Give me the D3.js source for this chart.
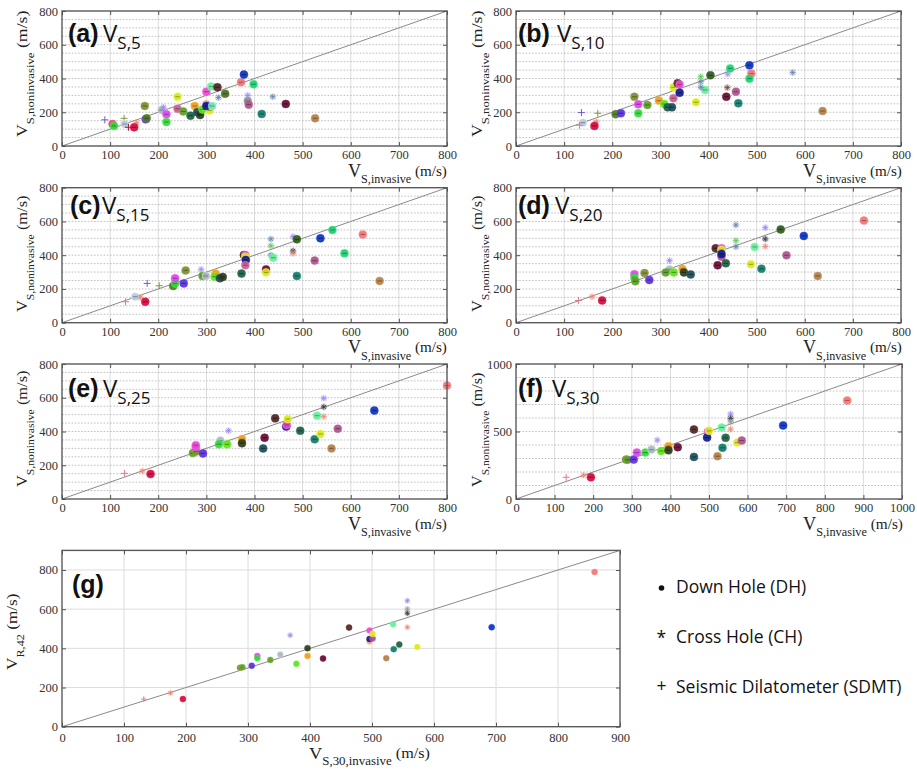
<!DOCTYPE html>
<html><head><meta charset="utf-8">
<script src="https://cdn.jsdelivr.net/npm/d3@7"></script>
<style>body{margin:0;background:#fff} svg{display:block}</style>
</head><body>
<svg id="chart" width="917" height="769"></svg>
<script>
// ---------------- DATA ----------------
// each row: [V invasive, V noninvasive, site key]
const panelA = [
 [89,155,'purpleP'],[105,130,'rose'],[108,119,'green'],[129,164,'oliveP'],[130,130,'lightblue'],
 [138,111,'darkredP'],[155,138,'salmonA'],[150,111,'crimson'],[174,158,'violet'],[176,164,'darkolive'],
 [172,237,'olive'],[207,213,'lightgray'],[211,229,'lavenderA'],[217,188,'magenta'],[217,142,'green'],
 [240,221,'mauve'],[240,292,'yellow'],[252,205,'olivegreen'],[267,180,'darkgreen'],[276,237,'orange'],
 [281,200,'darkteal'],[287,184,'blackgreen'],[292,217,'lime'],[307,211,'yellow'],[300,249,'peach'],
 [300,237,'navy'],[300,322,'pink'],[310,352,'lightgreen'],[312,237,'mint'],[323,348,'darkbrown'],
 [325,287,'steelA'],[339,310,'darkolive2'],[372,378,'salmon'],[378,423,'blue'],[398,366,'emerald'],
 [386,300,'lavenderA'],[386,267,'gray'],[388,245,'plum'],[438,292,'steelA'],[465,249,'maroon'],
 [415,190,'teal'],[526,164,'brown']
];
const panelB = [
 [136,198,'purpleP'],[139,138,'lightblue'],[132,123,'pinkP'],[170,194,'oliveP'],[167,144,'salmonA'],
 [163,119,'crimson'],[207,188,'darkolive'],[218,194,'violet'],[246,292,'olive'],[254,247,'magenta'],
 [254,194,'green'],[273,243,'olivegreen'],[297,269,'orange'],[308,249,'lime'],[315,229,'darkgreen'],
 [324,229,'darkteal'],[327,283,'mauve'],[327,348,'yellow'],[336,372,'darkbrown'],[340,364,'pink'],
 [340,316,'navy'],[374,259,'yellow'],[393,332,'lightgreen'],[384,381,'steelA'],[384,348,'steelA'],
 [384,411,'greenA'],[404,419,'forest'],[440,427,'lavenderA'],[445,460,'emerald'],[437,292,'maroon'],
 [439,346,'brownA'],[457,322,'plum'],[462,253,'teal'],[485,478,'blue'],[489,429,'salmon'],
 [485,399,'emerald'],[575,435,'steelA'],[637,207,'brown']
];
const panelC = [
 [132,124,'pinkP'],[152,154,'lightblue'],[163,150,'salmonA'],[173,124,'crimson'],[177,233,'purpleP'],
 [202,219,'oliveP'],[231,217,'darkolive'],[235,233,'green'],[235,263,'magenta'],[253,233,'violet'],
 [257,310,'olive'],[289,316,'lavenderA'],[292,277,'olivegreen'],[299,277,'lightgray'],[319,291,'orange'],
 [317,273,'lime'],[328,263,'darkteal'],[334,271,'blackgreen'],[373,291,'darkgreen'],[378,401,'darkbrown'],
 [381,401,'pink'],[381,391,'yellow'],[382,371,'navy'],[381,340,'mauve'],[424,316,'maroon'],
 [424,298,'yellow'],[434,496,'steelA'],[434,456,'greenA'],[434,401,'steelA'],[439,385,'lightgreen'],
 [480,510,'lavenderA'],[480,425,'darkA'],[480,411,'salmonA'],[488,494,'forest'],[488,277,'teal'],
 [525,368,'plum'],[537,500,'blue'],[562,549,'emerald'],[587,411,'emerald'],[625,523,'salmon'],
 [660,247,'brown']
];
const panelD = [
 [130,132,'pinkP'],[158,154,'salmonA'],[179,132,'crimson'],[246,287,'magenta'],[246,267,'green'],
 [248,245,'olivegreen'],[267,294,'olive'],[277,253,'violet'],[319,368,'lavenderA'],[319,316,'lightgray'],
 [311,298,'olivegreen'],[328,298,'lime'],[346,318,'orange'],[349,298,'blackgreen'],[363,286,'darkteal'],
 [415,441,'darkbrown'],[427,441,'pink'],[427,431,'yellow'],[427,391,'plum'],[427,407,'navy'],
 [419,340,'maroon'],[436,352,'darkgreen'],[457,579,'steelA'],[457,486,'greenA'],[457,450,'steelA'],
 [496,449,'lightgreen'],[488,346,'yellow'],[518,563,'lavenderA'],[518,496,'darkA'],[518,452,'salmonA'],
 [510,320,'teal'],[550,553,'forest'],[598,514,'blue'],[562,399,'plum'],[627,277,'brown'],
 [723,605,'salmon']
];
const panelE = [
 [130,152,'pinkP'],[167,166,'salmonA'],[184,148,'crimson'],[272,272,'olivegreen'],[279,282,'olive'],
 [278,308,'magenta'],[278,318,'pink'],[293,270,'violet'],[329,346,'lightgray'],[326,324,'green'],
 [343,324,'lime'],[346,405,'lavenderA'],[374,354,'orange'],[374,330,'blackgreen'],[418,300,'darkteal'],
 [421,363,'maroon'],[443,478,'darkbrown'],[466,429,'navy'],[467,439,'pink'],[469,474,'yellow'],
 [495,405,'darkgreen'],[525,354,'teal'],[530,494,'lightgreen'],[537,385,'yellow'],[544,597,'lavenderA'],
 [544,546,'darkA'],[544,488,'salmonA'],[560,300,'brown'],[573,417,'plum'],[649,524,'blue'],
 [800,672,'salmon']
];
const panelF = [
 [130,161,'pinkP'],[175,176,'salmonA'],[194,161,'crimson'],[285,292,'olive'],[289,290,'olivegreen'],
 [305,292,'violet'],[313,344,'magenta'],[335,344,'green'],[351,366,'lightgray'],[366,436,'lavenderA'],
 [376,356,'lime'],[395,391,'orange'],[395,361,'blackgreen'],[419,384,'maroon'],[461,312,'darkteal'],
 [461,515,'darkbrown'],[497,498,'pink'],[495,455,'navy'],[500,505,'yellow'],[533,530,'lightgreen'],
 [522,317,'brown'],[535,379,'teal'],[543,453,'darkgreen'],[556,629,'lavenderA'],[556,597,'darkA'],
 [556,572,'grayA'],[556,517,'salmonA'],[573,418,'yellow'],[585,433,'plum'],[692,545,'blue'],
 [858,730,'salmon']
];
const panelG = [
 [132,141,'pinkP'],[175,172,'salmonA'],[195,141,'crimson'],[287,301,'olive'],[291,304,'olivegreen'],
 [306,311,'violet'],[315,361,'magenta'],[315,350,'green'],[336,341,'olivegreen'],[352,368,'lightgray'],
 [368,467,'lavenderA'],[378,321,'lime'],[396,361,'orange'],[396,401,'blackgreen'],[421,348,'maroon'],
 [463,506,'darkbrown'],[496,491,'pink'],[496,435,'peach'],[496,448,'navy'],[501,450,'plum'],
 [501,474,'yellow'],[534,523,'lightgreen'],[523,350,'brown'],[535,396,'teal'],[544,419,'darkgreen'],
 [557,643,'lavenderA'],[557,601,'grayA'],[557,579,'darkA'],[557,508,'salmonA'],[573,407,'yellow'],
 [693,508,'blue'],[859,790,'salmon']
];
const xTicks800 = [0,100,200,300,400,500,600,700,800];
const yTicks800 = [0,200,400,600,800];
const xTicks1000 = [0,100,200,300,400,500,600,700,800,900,1000];
const yTicks1000 = [0,500,1000];
const xTicks900 = [0,100,200,300,400,500,600,700,800,900];
const yTicksG = [0,200,400,600,800];
const panelLetters = ['(a)','(b)','(c)','(d)','(e)','(f)','(g)'];
const panelSubs = ['S,5','S,10','S,15','S,20','S,25','S,30',null];
const legendSymbols = ['\u2022','*','+'];
const legendLabels = ['Down Hole (DH)','Cross Hole (CH)','Seismic Dilatometer (SDMT)'];

// site -> [colour, method]
const siteStyle = {
 crimson:['#cf0a3c','DH'], rose:['#f23f78','DH'], pinkP:['#e07a8e','SDMT'], darkredP:['#a01838','SDMT'],
 purpleP:['#6f5bd0','SDMT'], oliveP:['#7c9a3c','SDMT'], salmonA:['#ee8a78','CH'], lightblue:['#b8c8dc','DH'],
 darkolive:['#4e7b22','DH'], violet:['#5a30d8','DH'], olive:['#7d8a35','DH'], lightgray:['#a9b8bf','DH'],
 magenta:['#d945ee','DH'], green:['#35d63c','DH'], mauve:['#c2608f','DH'], yellow:['#d7e626','DH'],
 olivegreen:['#5e9a2c','DH'], darkgreen:['#1c5d3f','DH'], orange:['#f09a1c','DH'], darkteal:['#1b4b5a','DH'],
 blackgreen:['#2b3d1d','DH'], lime:['#5ee01c','DH'], navy:['#111a8e','DH'], pink:['#ea4bcc','DH'],
 peach:['#f2a58e','DH'], lightgreen:['#68ec98','DH'], mint:['#74e2b4','DH'], darkbrown:['#4e2424','DH'],
 steelA:['#6a8ab0','CH'], darkolive2:['#4a6a28','DH'], salmon:['#f27373','DH'], blue:['#0b33bd','DH'],
 emerald:['#22cc70','DH'], lavenderA:['#9c8cf0','CH'], gray:['#8e8e8e','DH'], plum:['#a8528a','DH'],
 maroon:['#640a32','DH'], teal:['#147868','DH'], brown:['#ad7e4c','DH'], greenA:['#5cc85c','CH'],
 brownA:['#7a4c3a','CH'], darkA:['#3c3c4a','CH'], grayA:['#9a9a9a','CH'], forest:['#2e5a1c','DH']
};

// ---------------- LAYOUT ----------------
const svg = d3.select('#chart');
const serif = "'Liberation Serif','Times New Roman',serif";
const panels = [
 {data:panelA, x0:62, x1:447, y0:146, y1:11, xmax:800, ymax:800, xt:xTicks800, yt:yTicks800, hstep:50, dotted:true,
  labX:68, vX:103, base:42, yt0:10, yt1:137, ytx:27, xtx0:348, xtx1:447},
 {data:panelB, x0:516, x1:901, y0:146, y1:11, xmax:800, ymax:800, xt:xTicks800, yt:yTicks800, hstep:50, dotted:true,
  labX:518, vX:557, base:42, yt0:10, yt1:137, ytx:482, xtx0:803, xtx1:902},
 {data:panelC, x0:62, x1:447, y0:322.7, y1:187.7, xmax:800, ymax:800, xt:xTicks800, yt:yTicks800, hstep:50, dotted:true,
  labX:70, vX:102, base:214, yt0:195, yt1:312, ytx:27, xtx0:348, xtx1:447},
 {data:panelD, x0:516, x1:901, y0:322.7, y1:187.7, xmax:800, ymax:800, xt:xTicks800, yt:yTicks800, hstep:50, dotted:true,
  labX:518, vX:555, base:214, yt0:195, yt1:312, ytx:482, xtx0:803, xtx1:902},
 {data:panelE, x0:62, x1:447, y0:499, y1:364, xmax:800, ymax:800, xt:xTicks800, yt:yTicks800, hstep:50, dotted:true,
  labX:68, vX:103, base:397, yt0:370, yt1:487, ytx:27, xtx0:348, xtx1:447},
 {data:panelF, x0:516, x1:902, y0:499, y1:364, xmax:1000, ymax:1000, xt:xTicks1000, yt:yTicks1000, hstep:100, dotted:true,
  labX:518, vX:552, base:397, yt0:372, yt1:487, ytx:482, xtx0:803, xtx1:903},
 {data:panelG, x0:62, x1:620, y0:726.7, y1:550.4, xmax:900, ymax:900, xt:xTicks900, yt:yTicksG, hstep:200, dotted:false,
  labX:72, vX:null, base:593, g:true}
];

function styleAxis(sel){
  sel.select('.domain').remove();
  sel.selectAll('.tick line').attr('stroke','#555').attr('stroke-width',1);
  sel.selectAll('.tick text').attr('font-family',serif).attr('font-size',12.5).attr('fill','#333');
}

function fitText(parts, tx, ty, rot, L){
  const t = svg.append('text').attr('font-family',serif).attr('fill','#222');
  parts.forEach(([s,size,dy]) => t.append('tspan').attr('font-size',size).attr('dy',dy).text(s));
  const w = t.node().getBBox().width;
  const s = L / w;
  t.attr('transform',`translate(${tx},${ty}) rotate(${rot}) scale(${s},1)`);
}

function drawPanel(p, i){
  const x = d3.scaleLinear().domain([0,p.xmax]).range([p.x0,p.x1]);
  const y = d3.scaleLinear().domain([0,p.ymax]).range([p.y0,p.y1]);
  const g = svg.append('g');
  g.append('rect').attr('x',p.x0).attr('y',p.y1).attr('width',p.x1-p.x0).attr('height',p.y0-p.y1).attr('fill','#fff');
  // grid
  const vg = p.xt.filter(v => v>0 && v<p.xmax);
  g.selectAll('.vg').data(vg).join('line').attr('x1',d=>x(d)).attr('x2',d=>x(d)).attr('y1',p.y0).attr('y2',p.y1)
    .attr('stroke','#dcdcdc').attr('stroke-width',1);
  const hg = d3.range(p.hstep, p.ymax, p.hstep);
  g.selectAll('.hg').data(hg).join('line').attr('x1',p.x0).attr('x2',p.x1).attr('y1',d=>y(d)).attr('y2',d=>y(d))
    .attr('stroke', p.dotted ? '#b8b8b8' : '#dcdcdc').attr('stroke-width', p.dotted?0.9:1)
    .attr('stroke-dasharray', p.dotted ? '1.6,1.6' : null);
  // 1:1 line
  const dm = Math.min(p.xmax,p.ymax);
  g.append('line').attr('x1',x(0)).attr('y1',y(0)).attr('x2',x(dm)).attr('y2',y(dm)).attr('stroke','#8a8a8a').attr('stroke-width',1);
  // points
  const r = p.g ? 3 : 4;
  p.data.forEach(([xv,yv,key]) => {
    const [col, m] = siteStyle[key];
    const cx = x(xv), cy = y(yv);
    if (m === 'DH') {
      g.append('circle').attr('cx',cx).attr('cy',cy).attr('r',r).attr('fill',col).attr('fill-opacity',0.92)
        .attr('stroke',d3.color(col).brighter(0.6)).attr('stroke-opacity',0.6).attr('stroke-width',0.8);
      if (!p.g) g.append('line').attr('x1',cx-2.3).attr('x2',cx+2.3).attr('y1',cy).attr('y2',cy)
        .attr('stroke',d3.color(col).darker(1.3)).attr('stroke-width',1.1).attr('stroke-opacity',0.8);
    } else if (m === 'CH') {
      const a = p.g ? 2.4 : 2.8;
      g.append('circle').attr('cx',cx).attr('cy',cy).attr('r',a+0.8).attr('fill',col).attr('fill-opacity',0.2);
      const path = d3.path();
      path.moveTo(cx-a,cy); path.lineTo(cx+a,cy);
      path.moveTo(cx,cy-a); path.lineTo(cx,cy+a);
      const b = a*0.72;
      path.moveTo(cx-b,cy-b); path.lineTo(cx+b,cy+b);
      path.moveTo(cx-b,cy+b); path.lineTo(cx+b,cy-b);
      g.append('path').attr('d',path.toString()).attr('stroke',col).attr('stroke-width',0.9).attr('fill','none');
    } else {
      const a = p.g ? 2.8 : 3.5;
      const path = d3.path();
      path.moveTo(cx-a,cy); path.lineTo(cx+a,cy);
      path.moveTo(cx,cy-a); path.lineTo(cx,cy+a);
      g.append('path').attr('d',path.toString()).attr('stroke',col).attr('stroke-width',1).attr('fill','none');
    }
  });
  // frame
  g.append('rect').attr('x',p.x0).attr('y',p.y1).attr('width',p.x1-p.x0).attr('height',p.y0-p.y1)
    .attr('fill','none').attr('stroke','#5a5a5a').attr('stroke-width',1.4);
  // axes (inward ticks)
  const fmt = d3.format('d');
  g.append('g').attr('transform',`translate(0,${p.y0})`)
    .call(d3.axisBottom(x).tickValues(p.xt).tickSize(-4).tickPadding(p.g?6:4.5).tickFormat(fmt)).call(styleAxis);
  g.append('g').attr('transform',`translate(0,${p.y1})`)
    .call(d3.axisTop(x).tickValues(p.xt).tickSize(-4).tickFormat('')).call(styleAxis);
  g.append('g').attr('transform',`translate(${p.x0},0)`)
    .call(d3.axisLeft(y).tickValues(p.yt).tickSize(-4).tickPadding(4).tickFormat(fmt)).call(styleAxis);
  g.append('g').attr('transform',`translate(${p.x1},0)`)
    .call(d3.axisRight(y).tickValues(p.yt).tickSize(-4).tickFormat('')).call(styleAxis);
  // panel label
  g.append('text').attr('x',p.labX).attr('y',p.base).attr('font-family',"'Liberation Sans',Arial,sans-serif")
    .attr('font-weight','bold').attr('font-size',25).attr('fill','#111').text(panelLetters[i]);
  if (panelSubs[i]) {
    const t = g.append('text').attr('x',p.vX).attr('y',p.base).attr('font-family',"'Open Sans',sans-serif").attr('fill','#111');
    t.append('tspan').attr('font-size',24).text('V');
    t.append('tspan').attr('font-size',17).attr('dy',7).text(panelSubs[i]);
  }
  // axis titles
  if (!p.g) {
    fitText([['V',14,0],['S,noninvasive',10,7],[' (m/s)',14,-7]], p.ytx, p.yt1, -90, p.yt1-p.yt0);
    fitText([['V',18,0],['S,invasive',12,6.5],[' (m/s)',15,-7.5]], p.xtx0, p.y0+30.5, 0, p.xtx1-p.xtx0);
  } else {
    fitText([['V',14,0],['R,42',10,7],[' (m/s)',14,-7]], 17, 670, -90, 77);
    fitText([['V',17,0],['S,30,invasive',12,6],[' (m/s)',15,-7]], 309, 759, 0, 121);
  }
}
panels.forEach(drawPanel);

// legend
const legY = [593, 643, 693];
legendLabels.forEach((lab,i) => {
  if (i === 0) {
    svg.append('circle').attr('cx',661.5).attr('cy',588).attr('r',2.8).attr('fill','#111');
  } else {
    svg.append('text').attr('x',656.5).attr('y',legY[i] + (i===1?1:-1)).attr('font-family',"'Open Sans',sans-serif")
      .attr('font-size',17.5).attr('fill','#111').text(legendSymbols[i]);
  }
  svg.append('text').attr('x',676).attr('y',legY[i]).attr('font-family',"'Open Sans',sans-serif")
    .attr('font-size',17.5).attr('fill','#111').text(lab);
});
</script>
</body></html>
